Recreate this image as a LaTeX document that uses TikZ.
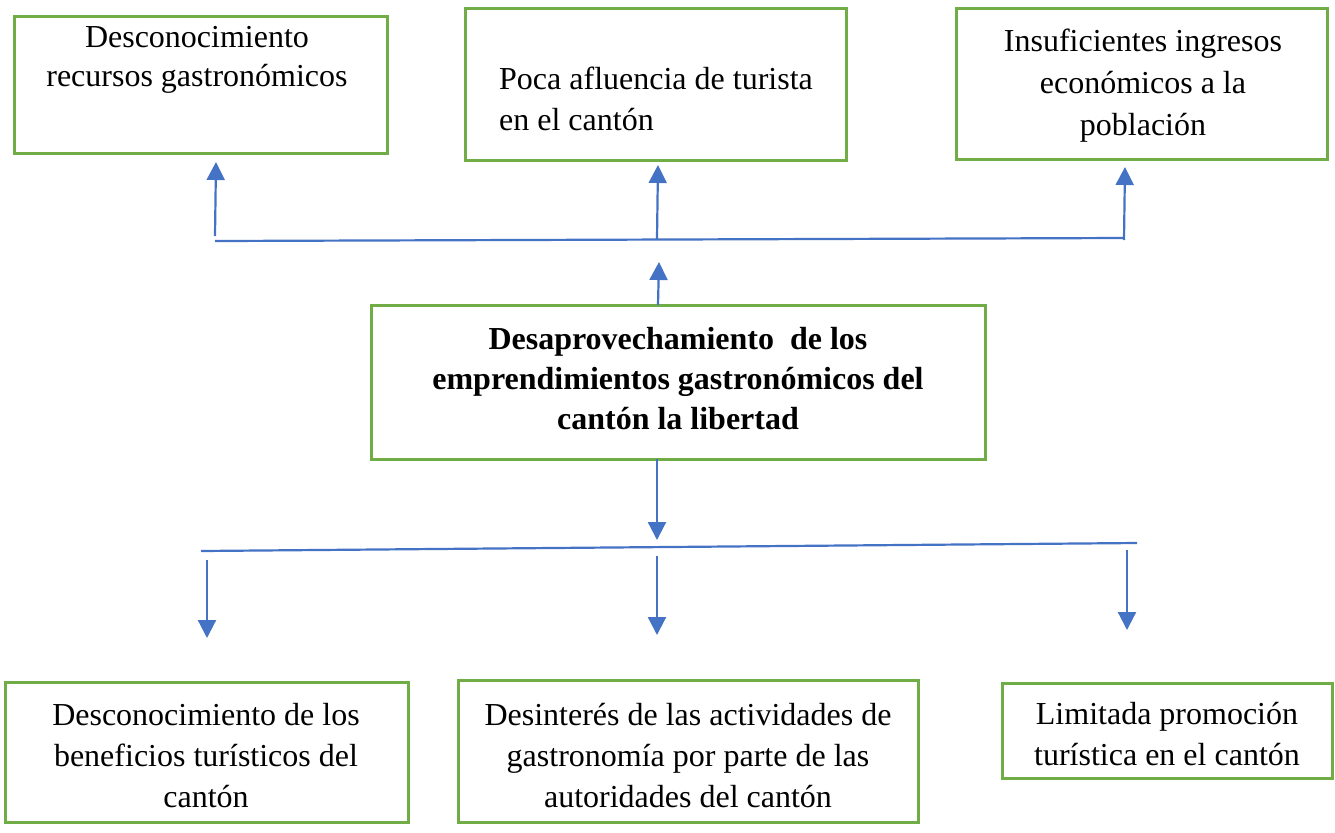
\documentclass[tikz,border=0pt]{standalone}
\usepackage{fontspec}
\setmainfont{Liberation Serif}
\usetikzlibrary{arrows.meta}
\definecolor{boxgreen}{RGB}{112,173,71}
\definecolor{arrblue}{RGB}{68,114,196}
\tikzset{
  x=0.5pt, y=-0.5pt,
  box/.style={draw=boxgreen, line width=1.5pt},
  txt/.style={align=center, inner sep=0pt, font=\fontsize{16}{20.5}\selectfont},
  conn/.style={draw=arrblue, line width=1.1pt},
  arr/.style={conn, -{Triangle[width=9pt,length=9pt]}},
}
\begin{document}
\begin{tikzpicture}
\useasboundingbox (0,0) rectangle (1335,832);
% boxes
\draw[box] (14,16) rectangle (387,153);
\draw[box] (465,8) rectangle (846,160);
\draw[box] (956,8) rectangle (1327,159);
\draw[box] (371,305) rectangle (985,459);
\draw[box] (5,682) rectangle (408,822);
\draw[box] (458,680) rectangle (918,822);
\draw[box] (1002,683) rectangle (1332,778);
% texts
\node[txt, font=\fontsize{16}{19.5}\selectfont] (t1) at (197,60) {Desconocimiento\\recursos gastronómicos};
\node[txt, align=left] (t2) at (656,99) {Poca afluencia de turista\\en el cantón};
\node[txt, font=\fontsize{16}{21}\selectfont] (t3) at (1143,86) {Insuficientes ingresos\\económicos a la\\población};
\node[txt, font=\fontsize{16}{20}\selectfont\bfseries] (tc) at (678,379) {Desaprovechamiento\ \ de los\\emprendimientos gastronómicos del\\cantón la libertad};
\node[txt] (b1) at (206,756) {Desconocimiento de los\\beneficios turísticos del\\cantón};
\node[txt] (b2) at (688,756) {Desinterés de las actividades de\\gastronomía por parte de las\\autoridades del cantón};
\node[txt] (b3) at (1167,734) {Limitada promoción\\turística en el cantón};
% top connectors
\coordinate (hl) at (215,241);
\coordinate (hr) at (1124,238);
\draw[conn] (hl) -- (hr);
\coordinate (u1s) at (215,236); \coordinate (u1e) at (216,162);
\coordinate (u2s) at (657,239); \coordinate (u2e) at (658,165);
\coordinate (u3s) at (1124,240); \coordinate (u3e) at (1125,167);
\draw[arr] (u1s) -- (u1e);
\draw[arr] (u2s) -- (u2e);
\draw[arr] (u3s) -- (u3e);
\coordinate (cus) at (658,305); \coordinate (cue) at (659,262);
\draw[arr] (cus) -- (cue);
% bottom connectors
\coordinate (cds) at (657,459); \coordinate (cde) at (657,540);
\draw[arr] (cds) -- (cde);
\coordinate (ll) at (201,551);
\coordinate (lr) at (1137,543);
\draw[conn] (ll) -- (lr);
\coordinate (d1s) at (207,560); \coordinate (d1e) at (207,638);
\coordinate (d2s) at (657,556); \coordinate (d2e) at (657,635);
\coordinate (d3s) at (1127,550); \coordinate (d3e) at (1127,630);
\draw[arr] (d1s) -- (d1e);
\draw[arr] (d2s) -- (d2e);
\draw[arr] (d3s) -- (d3e);
\end{tikzpicture}
\end{document}
